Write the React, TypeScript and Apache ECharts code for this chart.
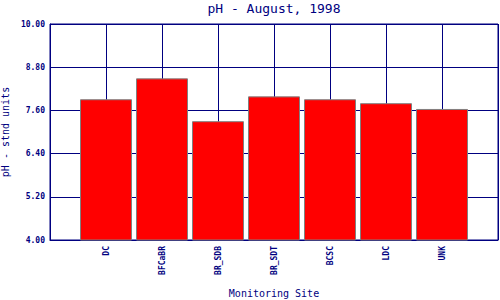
import React, { useEffect, useRef } from "react";
import * as echarts from "echarts";

const sites = ["DC", "BFCaBR", "BR_SDB", "BR_SDT", "BCSC", "LDC", "UNK"];
const phValues = [7.91, 8.49, 7.3, 7.99, 7.91, 7.8, 7.64];
const yTicks = [4.0, 5.2, 6.4, 7.6, 8.8, 10.0];

const NAVY = "#000080";
const MONO = "'DejaVu Sans Mono', 'Liberation Mono', monospace";

export default function App() {
  const ref = useRef<HTMLDivElement>(null);
  useEffect(() => {
    if (!ref.current) return;
    const chart = echarts.init(ref.current, null, { renderer: "svg" });
    chart.setOption({
      animation: false,
      backgroundColor: "#ffffff",
      title: {
        text: "pH - August, 1998",
        left: 274,
        textAlign: "center",
        top: 2,
        padding: 0,
        textStyle: { color: NAVY, fontFamily: MONO, fontSize: 13, fontWeight: "normal" },
      },
      grid: {
        left: 50,
        top: 24,
        right: 2,
        bottom: 60,
        show: true,
        borderColor: NAVY,
        borderWidth: 1,
        backgroundColor: "transparent",
        containLabel: false,
        outerBoundsMode: "none",
      },
      xAxis: {
        type: "value",
        min: 0,
        max: sites.length + 1,
        interval: 1,
        name: "Monitoring Site",
        nameLocation: "middle",
        nameGap: 48,
        nameTextStyle: { color: NAVY, fontFamily: MONO, fontSize: 10 },
        axisLine: { show: true, lineStyle: { color: NAVY, width: 1 } },
        axisTick: { show: false },
        splitLine: { show: true, lineStyle: { color: NAVY, width: 1 } },
        axisLabel: {
          rotate: 90,
          margin: 6,
          color: NAVY,
          fontFamily: MONO,
          fontSize: 8,
          fontWeight: "bold",
          formatter: (v: number) => sites[v - 1] ?? "",
        },
      },
      yAxis: {
        type: "value",
        min: yTicks[0],
        max: yTicks[yTicks.length - 1],
        interval: 1.2,
        name: "pH - stnd units",
        nameLocation: "middle",
        nameGap: 38,
        nameTextStyle: { color: NAVY, fontFamily: MONO, fontSize: 10 },
        axisLine: { show: true, lineStyle: { color: NAVY, width: 1 } },
        axisTick: { show: false },
        splitLine: { show: true, lineStyle: { color: NAVY, width: 1 } },
        axisLabel: {
          margin: 5,
          color: NAVY,
          fontFamily: MONO,
          fontSize: 8,
          fontWeight: "bold",
          formatter: (v: number) => v.toFixed(2),
        },
      },
      series: [
        {
          type: "bar",
          data: phValues.map((v, i) => [i + 1, v]),
          barWidth: 52,
          itemStyle: { color: "#ff0000", borderColor: "#808080", borderWidth: 1 },
          clip: true,
        },
      ],
    });
    return () => chart.dispose();
  }, []);
  return (
    <div
      ref={ref}
      style={{ position: "fixed", left: 0, top: 0, width: 500, height: 300 }}
    />
  );
}
